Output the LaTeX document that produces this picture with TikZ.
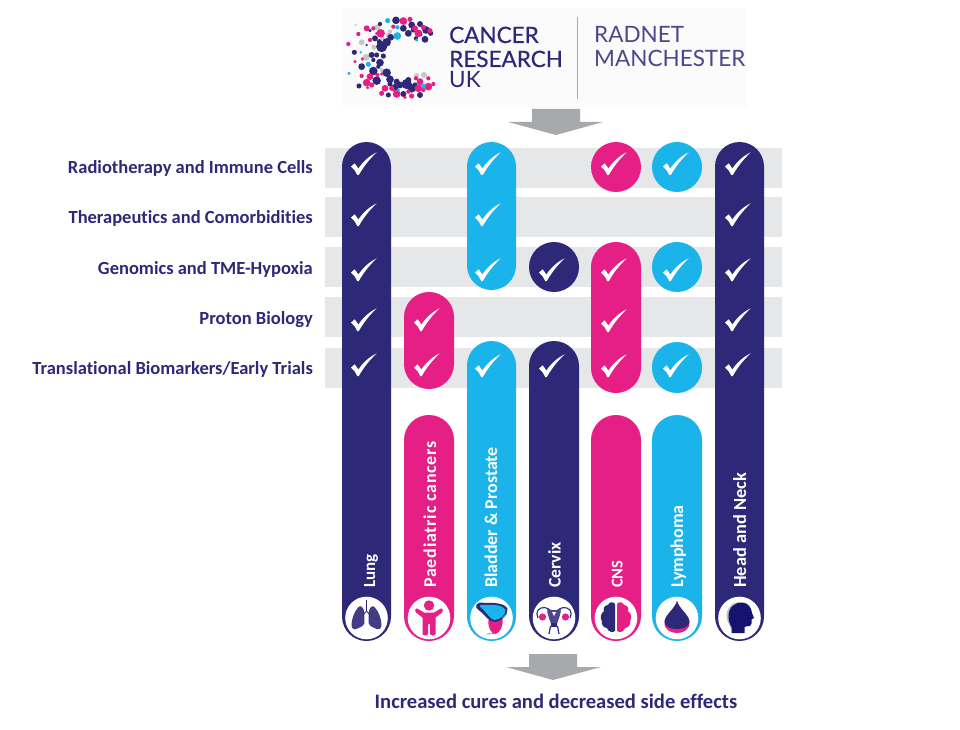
\documentclass[tikz,border=0pt]{standalone}
\usepackage{fontspec}
\setmainfont[Ligatures=NoCommon]{Carlito}
\newfontfamily\spacedfont[LetterSpace=4.2,Ligatures=NoCommon,BoldFont={Carlito Bold}]{Carlito}
\newfontfamily\logofont{Lato}
\newfontfamily\logobold[FakeBold=0.6]{Lato}
\definecolor{navy}{HTML}{2E2878}
\definecolor{pinkc}{HTML}{E51F86}
\definecolor{cyanc}{HTML}{1AB4EA}
\definecolor{bandc}{HTML}{E6E7E9}
\definecolor{arrowc}{HTML}{A7A9AC}
\definecolor{deepnavy}{HTML}{14146E}
\tikzset{
  x=1pt,y=-1pt,
  bandbox/.style={fill=bandc},
  tickmark/.pic={\fill[white] (-13,2.7) .. controls (-12,1.2) .. (-9.5,-0.7) .. controls (-8,1) .. (-5.7,4.6) .. controls (-0.5,-3) and (6,-8.5) .. (12.7,-11.7) .. controls (5,-4.5) and (-1,3.5) .. (-5.2,11) -- (-6.8,11) .. controls (-8,7.5) and (-10,5) .. (-13,2.7) -- cycle;},
  rowlabel/.style={anchor=east,font=\bfseries\fontsize{18.5}{20}\selectfont,text=navy,inner sep=0pt},
  barlabel/.style={rotate=90,anchor=base west,font=\bfseries\fontsize{18}{20}\selectfont,text=white,inner sep=0pt},
  logotext/.style={anchor=base west,inner sep=0pt,text=navy},
  iconring/.style={fill=white},
}
\newcommand{\pillbar}[5]{\fill[#1,rounded corners=#5pt] (#2,#3) rectangle (#4);}
\newcommand{\dotset}[2]{\foreach \px/\py/\pr in {#2} {\fill[#1] (\px,\py) circle[radius={\pr*1.28}];}}
\begin{document}
\begin{tikzpicture}
\useasboundingbox (0,0) rectangle (960,730);
\fill[white] (0,0) rectangle (960,730);
% logo panel
\fill[black!1.5] (343,8) rectangle (747,107);
\begin{scope}[shift={(340,10)},x=0.3333pt,y=-0.3333pt]
\dotset{black!22}{47/45/3,112/52/7,65/97/7,128/85/5,145/75/6,102/112/6,78/142/8,130/140/6,125/180/5,252/195/7,230/197/6,150/65/5,195/40/5}
\dotset{navy}{168/31/9,120/42/5,215/45/8,240/42/7,258/60/9,272/70/6,190/55/8,205/70/8,255/88/8,240/72/6,152/82/8,140/97/10,125/110/13,105/85/7,90/62/4,43/127/6,95/135/7,110/135/6,120/158/9,65/170/8,100/183/10,110/212/10,140/188/10,150/208/9,57/228/6,200/222/12,215/235/10,180/225/8,165/232/8,145/255/6,190/252/7,240/255/7,150/222/6,130/138/6,80/105/3,118/95/6,228/85/5,100/150/5,115/170/5,170/215/7,205/210/7,225/225/6,220/60/6}
\dotset{pinkc}{25/102/5,55/72/5,80/55/7,122/70/10,190/33/9,235/70/9,225/55/7,270/62/6,160/50/5,90/90/5,45/155/4,67/147/4,65/198/5,90/200/8,80/218/9,83/233/4,112/195/5,125/192/4,135/235/8,125/250/6,170/252/9,215/258/6,240/215/8,235/235/9,265/230/9,280/222/5,265/205/5,160/240/4,100/55/5,110/70/4,210/28/6,250/52/6,95/225/6,155/235/6,195/262/4,205/245/5,250/240/5,228/205/5}
\dotset{cyanc}{143/32/6,172/52/5,172/78/9,85/163/6,27/190/4,62/127/3,230/90/4,250/228/6,175/240/4}
\end{scope}
\node[logotext,font=\logobold\fontsize{22.5}{24}\selectfont] (cancer) at (449,43) {CANCER};
\node[logotext,font=\logobold\fontsize{22.5}{24}\selectfont] (research) at (449,67) {RESEARCH};
\node[logotext,font=\logofont\fontsize{22.5}{24}\selectfont] (uk) at (449,88) {UK};
\node[logotext,font=\logofont\fontsize{22.5}{24}\selectfont,text=navy!85] (radnet) at (594,43) {RADNET};
\node[logotext,font=\logofont\fontsize{22.5}{24}\selectfont,text=navy!85] (manchester) at (594,67) {MANCHESTER};
\fill[arrowc] (577,17) rectangle (578.4,99);
% top arrow
\fill[arrowc] (532,109) -- (580,109) -- (580,122) -- (603,122) -- (556,135) -- (508,122) -- (532,122) -- cycle;
% bands
\fill[bandbox] (325,148) rectangle (782,188);
\fill[bandbox] (325,197) rectangle (782,237);
\fill[bandbox] (325,247) rectangle (782,287);
\fill[bandbox] (325,297) rectangle (782,337);
\fill[bandbox] (325,348) rectangle (782,388);
% bars
\pillbar{navy}{342}{142}{391,641}{24.5}
\pillbar{pinkc}{404}{292}{454,389}{25}
\pillbar{pinkc}{404}{415}{454,641}{25}
\pillbar{cyanc}{467}{142}{516,290}{24.5}
\pillbar{cyanc}{467}{341}{516,641}{24.5}
\pillbar{navy}{529}{242}{579,292}{25}
\pillbar{navy}{529}{341}{579,641}{25}
\pillbar{pinkc}{591}{142}{641,192}{25}
\pillbar{pinkc}{591}{242}{641,393}{25}
\pillbar{pinkc}{591}{415}{641,641}{25}
\pillbar{cyanc}{652}{142}{702,192}{25}
\pillbar{cyanc}{652}{242}{702,292}{25}
\pillbar{cyanc}{652}{342}{702,393}{25}
\pillbar{cyanc}{652}{415}{702,641}{25}
\pillbar{navy}{715}{142}{764,641}{24.5}
% ticks
\foreach \cx/\cy in {364/164,364/215,364/270,364/320,364/365,
  427/320,427/365,
  488/164,488/215,488/270,488/366,
  552/270,552/366,
  614/164,614/270,614/321,614/366,
  676/164,676/270,676/366,
  738/164,738/215,738/270,738/320,738/365}
  \pic at (\cx,\cy) {tickmark};
% row labels
\node[rowlabel] (r1) at (313,168) {Radiotherapy and Immune Cells};
\node[rowlabel] (r2) at (313,218) {Therapeutics and Comorbidities};
\node[rowlabel] (r3) at (313,269) {Genomics and TME-Hypoxia};
\node[rowlabel] (r4) at (313,320) {Proton Biology};
\node[rowlabel] (r5) at (313,369) {Translational Biomarkers/Early Trials};
% bar labels
\node[barlabel,font=\bfseries\fontsize{17}{19}\selectfont] (b1) at (375,588) {Lung};
\node[barlabel,font=\spacedfont\bfseries\fontsize{18}{20}\selectfont] (b2) at (436,588) {Paediatric cancers};
\node[barlabel,font=\bfseries\fontsize{17.9}{20}\selectfont] (b3) at (497,588) {Bladder \& Prostate};
\node[barlabel,font=\bfseries\fontsize{17.7}{20}\selectfont] (b4) at (560.5,588) {Cervix};
\node[barlabel,font=\bfseries\fontsize{16.5}{19}\selectfont] (b5) at (622.5,588) {CNS};
\node[barlabel] (b6) at (683,588) {Lymphoma};
\node[barlabel,font=\bfseries\fontsize{18.4}{20}\selectfont] (b7) at (746,588) {Head and Neck};
% icon discs
\foreach \cx in {366.5,429,491.5,554,616,677,739.5}
  \fill[iconring] (\cx,618) circle[radius=21.3];
% lungs
\begin{scope}[shift={(366.5,618)}]
\foreach \s in {1,-1}{
\fill[navy!90,xscale=\s] (2.2,-6) .. controls (3,-11) and (6,-13) .. (8,-11) .. controls (12,-7) and (15,1) .. (15,7) .. controls (15,12) and (11,12) .. (8,10) .. controls (5,8.5) and (2.5,8) .. (2,5) -- cycle;
\draw[navy,line width=0.8pt,xscale=\s] (0,-7) -- (3.5,-3);
}
\draw[navy,line width=1.2pt] (0,-18) -- (0,-6);
\end{scope}
% child
\begin{scope}[shift={(429,618)}]
\fill[pinkc] (0,-12.5) circle[radius=5.2];
\fill[pinkc] (-14,-8) .. controls (-12,-10) .. (-11,-9) -- (-5,-5.5) -- (5,-5.5) -- (11,-9) .. controls (12,-10) .. (14,-8) .. controls (14,-6.5) .. (13,-5.5) -- (6.5,-0.5) -- (6.5,16) .. controls (6,18) and (2,18) .. (1,16) -- (1,6) -- (-1,6) -- (-1,16) .. controls (-2,18) and (-6,18) .. (-6.5,16) -- (-6.5,-0.5) -- (-13,-5.5) .. controls (-14,-6.5) .. (-14,-8) -- cycle;
\end{scope}
% bladder and prostate
\begin{scope}[shift={(491.5,618)}]
\fill[pinkc] (-3,2) .. controls (-4,10) and (0,16) .. (4,16) .. controls (9,15) and (12,7) .. (11,0) -- cycle;
\fill[navy] (-13,-8) .. controls (-18,-12) and (-15,-17) .. (-7,-15) .. controls (2,-15.5) and (14,-15) .. (16,-9) .. controls (16,-3) and (11,3) .. (3,4) .. controls (-3,4) and (-6,-3) .. (-13,-8) -- cycle;
\fill[cyanc] (-10,-10) .. controls (-14,-12) and (-11,-14) .. (-6,-13) .. controls (2,-13.5) and (12,-13) .. (14,-8) .. controls (14,-3) and (9,1.5) .. (3,2) .. controls (-1,1.5) and (-4,-4.5) .. (-10,-10) -- cycle;
\draw[cyanc,line width=1pt] (11,0) -- (15,-4);
\draw[cyanc,line width=0.8pt] (-5,16) -- (3,15.5);
\end{scope}
% uterus
\begin{scope}[shift={(554,618)}]
\foreach \s in {1,-1}{
\fill[pinkc,xscale=\s] (11.5,-1) circle[radius=3.6];
\draw[navy,line width=1.1pt,xscale=\s] (2,-6) .. controls (6,-11) and (12,-12) .. (16,-8) .. controls (17.5,-6) and (17.5,-3) .. (16,0);
}
\fill[navy!85] (-7,-10) .. controls (-4,-7) and (4,-7) .. (7,-10) .. controls (7,-3) and (4,2) .. (3,6) -- (-3,6) .. controls (-4,2) and (-7,-3) .. (-7,-10) -- cycle;
\fill[navy] (-2.6,5) rectangle (2.6,9);
\draw[navy,line width=1.2pt] (-3.5,8) -- (-5,16) (3.5,8) -- (5,16);
\fill[white] (0,-2) -- (-2,-6) -- (2,-6) -- cycle;
\end{scope}
% brain
\begin{scope}[shift={(616,618)}]
\fill[navy] (-1,-14) .. controls (-3,-17) and (-7,-16) .. (-8,-13) .. controls (-12,-13) and (-13,-9) .. (-12,-7) .. controls (-16,-4) and (-16,1) .. (-14,3) .. controls (-15,7) and (-12,10) .. (-9,10) .. controls (-8,14) and (-3,15) .. (-1,13) -- cycle;
\fill[pinkc] (1,-14) .. controls (3,-17) and (7,-16) .. (8,-13) .. controls (12,-13) and (13,-9) .. (12,-7) .. controls (16,-4) and (16,1) .. (14,3) .. controls (15,7) and (12,10) .. (9,10) .. controls (8,14) and (3,15) .. (1,13) -- cycle;
\end{scope}
% drop
\begin{scope}[shift={(677,618)}]
\fill[pinkc] (0,-17) .. controls (2,-9) and (12.5,-3) .. (12.5,5) .. controls (12.5,12) and (6,15) .. (0,15) .. controls (-6,15) and (-12.5,12) .. (-12.5,5) .. controls (-12.5,-3) and (-2,-9) .. (0,-17) -- cycle;
\fill[navy] (0,-17) .. controls (2,-9) and (12.5,-3) .. (12.5,4) .. controls (12,9) and (6,11) .. (0,11) .. controls (-6,11) and (-12,9) .. (-12.5,4) .. controls (-12.5,-3) and (-2,-9) .. (0,-17) -- cycle;
\end{scope}
% head
\begin{scope}[shift={(739.5,618)}]
\fill[black!25] (-13,-2) .. controls (-13,-12) and (-5,-17) .. (2,-16) -- (-6,14) -- (-9,10) .. controls (-10,6) and (-13,3) .. (-13,-2) -- cycle;
\fill[deepnavy] (-11,-2) .. controls (-11,-11) and (-4,-16) .. (3,-15.5) .. controls (9,-15) and (12,-10) .. (12.5,-5) -- (14.5,0) -- (12,1.5) .. controls (12.5,4) and (12.5,7) .. (10.5,8) .. controls (8,8.5) and (6,8) .. (5,9) -- (5,15) -- (-8,15) -- (-8,9) .. controls (-10,6) and (-11,2) .. (-11,-2) -- cycle;
\end{scope}
% bottom arrow
\fill[arrowc] (529,654) -- (577,654) -- (577,667) -- (601,667) -- (553,680) -- (506,667) -- (529,667) -- cycle;
\node[anchor=center,font=\bfseries\fontsize{20.6}{22}\selectfont,text=navy,inner sep=0pt] (outcome) at (556,701) {Increased cures and decreased side effects};
\end{tikzpicture}
\end{document}
